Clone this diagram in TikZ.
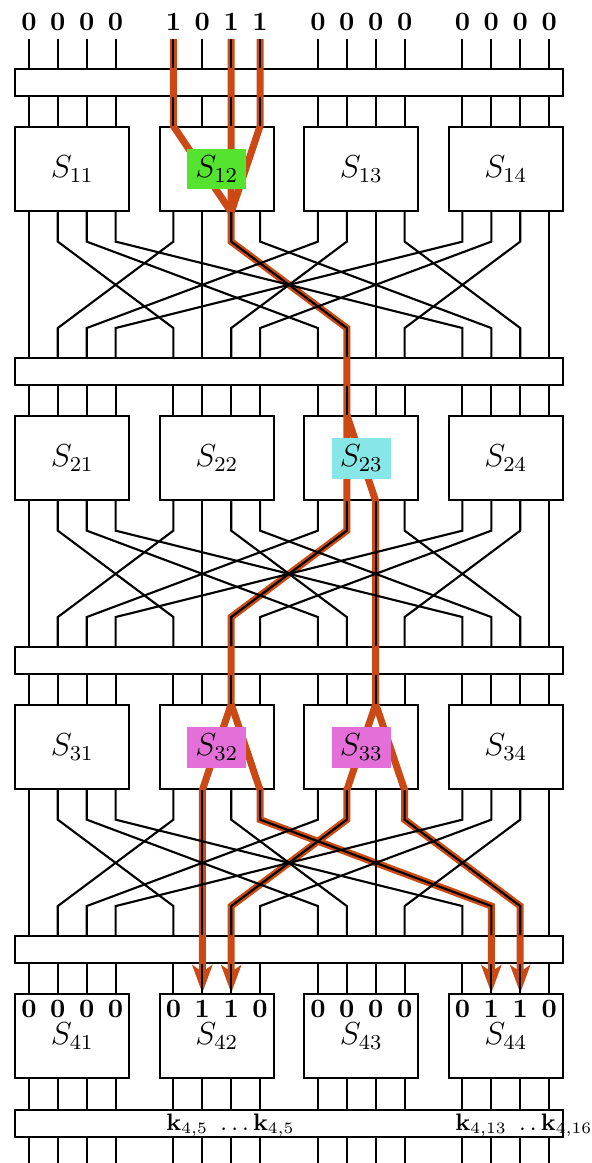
\documentclass[tikz,border=0pt]{standalone}
\usetikzlibrary{arrows.meta}
\definecolor{hotorange}{RGB}{203,73,20}
\definecolor{sgreen}{RGB}{85,227,47}
\definecolor{scyan}{RGB}{135,231,231}
\definecolor{spink}{RGB}{229,111,217}
\tikzset{
  sbox/.style={draw,thick,minimum width=43.1pt,minimum height=31.7pt,font=\large},
  kbar/.style={draw,thick,minimum width=206.8pt,minimum height=10.1pt},
  wire/.style={thick},
  hot/.style={line width=2.65pt,hotorange},
  hit/.style={fill=#1,minimum width=22.2pt,minimum height=15.4pt,inner sep=0pt,font=\large},
  bit/.style={inner sep=0pt},
  keytext/.style={anchor=base west,inner sep=0pt,font=\small},
  hit arrow/.style={-{Stealth[length=10.5pt,width=7.5pt,inset=2.5pt]}}
}
\begin{document}
\begin{tikzpicture}[x=10.907pt,y=-10.907pt]
      \useasboundingbox (0,0) rectangle (20.45,40.24);
      % s-boxes and key bars
      \foreach \l in {1,...,3}
        \foreach \c in {1,...,4}
          \node[sbox] (s\l\c) at ({5*\c-2.5},{10*\l-4.15}) {$S_{\l\c}$};
      \foreach \c in {1,...,4}
        \node[sbox] (s4\c) at ({5*\c-2.5},35.85) {\raisebox{-1.2pt}{$S_{4\c}$}};
      \foreach \l in {1,...,4}
        \node[kbar] (k\l) at (10,{10*\l-7.145}) {};
      \node[kbar] (k5) at (10,38.875) {};
      % the trail
      \draw[hot] (6,1.35) -- (s12.north -| 6,0) -- (s12.south -| 8,0);
      \draw[hot] (9,1.35) -- (s12.north -| 9,0) -- (s12.south -| 8,0);
      \draw[hot,hit arrow] (8,1.35) -- (8,8.36) -- (12,11.35) -- (12,18.36) -- (8,21.35)
        -- (s32.north -| 8,0) -- (s32.south -| 7,0) -- (s42.north -| 7,0);
      \draw[hot,hit arrow] (s23.north -| 12,0) -- (s23.south -| 13,0) -- (s33.north -| 13,0)
        -- (s33.south -| 12,0) -- (12,28.36) -- (8,31.35) -- (s42.north -| 8,0);
      \draw[hot,hit arrow] (s32.north -| 8,0) -- (s32.south -| 9,0) -- (9,28.36)
        -- (17,31.35) -- (s44.north -| 17,0);
      \draw[hot,hit arrow] (s33.north -| 13,0) -- (s33.south -| 14,0) -- (14,28.36)
        -- (18,31.35) -- (s44.north -| 18,0);
      % wires
      \begin{scope}[wire]
        \foreach \n in {0,...,15} {
          \pgfmathtruncatemacro\g{div(\n,4)}
          \pgfmathtruncatemacro\j{mod(\n,4)}
          \pgfmathtruncatemacro\c{\g+1}
          \pgfmathtruncatemacro\x{5*\g+\j+1}
          \pgfmathtruncatemacro\xx{5*\j+\g+1}
          \draw (\x,1.35) -- (k1.north -| \x,0);
          \foreach \l [evaluate=\l as \m using int(\l+1)] in {1,2,3} {
            \draw (k\l.south -| \x,0) -- (s\l\c.north -| \x,0);
            \draw (s\l\c.south -| \x,0) -- (\x,{10*\l-1.64}) -- (\xx,{10*\l+1.35})
              -- (k\m.north -| \xx,0);
          }
          \draw (k4.south -| \x,0) -- (s4\c.north -| \x,0);
          \draw (s4\c.south -| \x,0) -- (k5.north -| \x,0);
          \draw (k5.south -| \x,0) -- (\x,40.24);
        }
      \end{scope}
      % bits
      \foreach \b [count=\n from 0] in {0,0,0,0,1,0,1,1,0,0,0,0,0,0,0,0}
        \node[bit] (i\n) at ({5*div(\n,4)+mod(\n,4)+1},0.76) {$\mathbf{\b}$};
      \foreach \b [count=\n from 0] in {0,0,0,0,0,1,1,0,0,0,0,0,0,1,1,0}
        \node[bit] (o\n) at ({5*div(\n,4)+mod(\n,4)+1},34.9) {$\mathbf{\b}$};
      % active s-boxes
      \node[hit=sgreen] (l12) at (s12) {$S_{12}$};
      \node[hit=scyan] (l23) at (s23) {$S_{23}$};
      \node[hit=spink] (l32) at (s32) {$S_{32}$};
      \node[hit=spink] (l33) at (s33) {$S_{33}$};
      % key bits
      \node[keytext] (t1) at (5.74,39.13) {$\mathbf{k}_{4,5}\ \ldots\mathbf{k}_{4,5}$};
      \node[keytext] (t2) at (15.74,39.13)
        {$\mathbf{k}_{4,13}\ \mathinner{\ldotp\ldotp}\mathbf{k}_{4,16}$};
    \end{tikzpicture}
\end{document}
